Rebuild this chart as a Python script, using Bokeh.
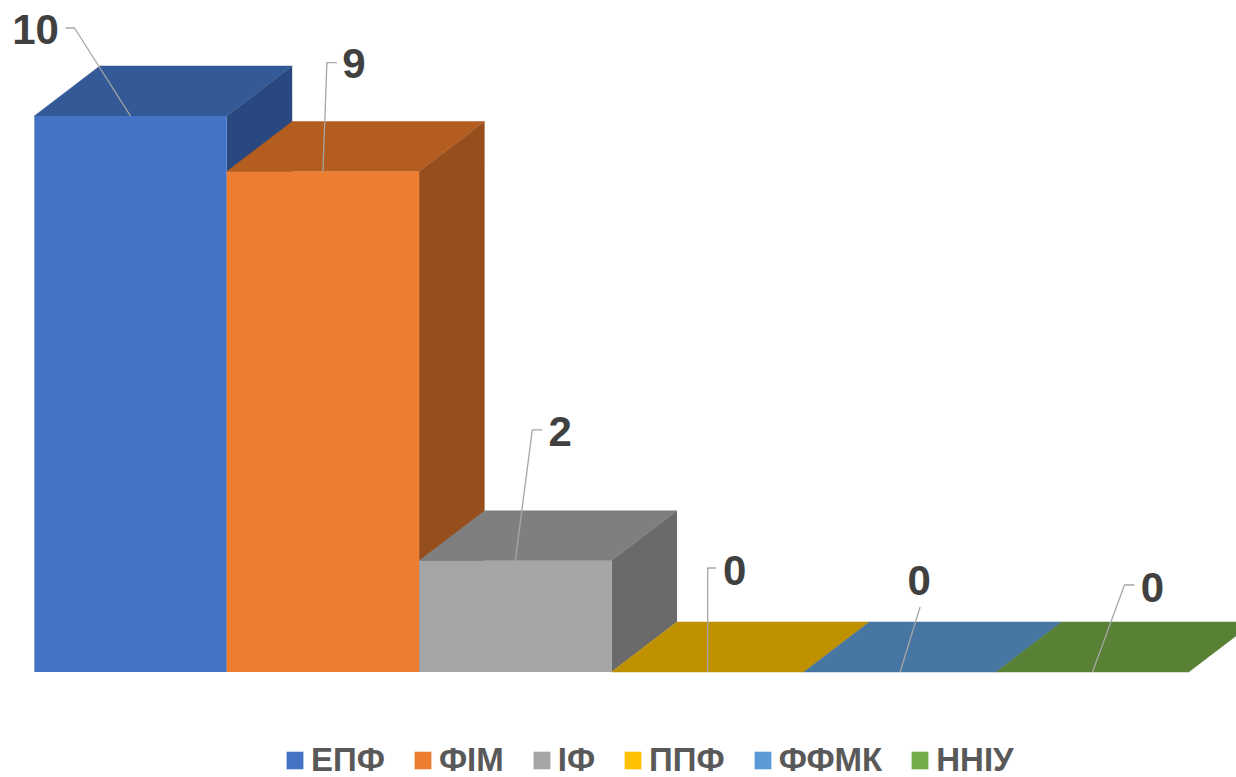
from bokeh.plotting import figure
from bokeh.models import Legend, LegendItem, Range1d
from bokeh.core.properties import value
from bokeh.embed import file_html
from bokeh.resources import INLINE

# Data
categories = ["ЕПФ", "ФІМ", "ІФ", "ППФ", "ФФМК", "ННІУ"]
values = [10, 9, 2, 0, 0, 0]
value_labels = ["10", "9", "2", "0", "0", "0"]

# Colours
front_colors = ["#4472C4", "#ED7D31", "#A5A5A5", "#FFC000", "#5B9BD5", "#70AD47"]
top_colors = ["#335A97", "#B45D21", "#7F7F7F", "#BF9000", "#4676A1", "#588135"]
side_colors = ["#2A4880", "#964F1C", "#6A6A6A", "#8F6C00", "#36648D", "#426429"]

# Layout (pixels in the 1236x777 picture)
W, H = 1236, 777
PX_PER_CAT = 192.4
PX_PER_VAL = 55.6
LEFT, BASE = 33.8, 671.5
DEPTH_X, DEPTH_Y = 65.5 / PX_PER_CAT, 50.0 / PX_PER_VAL

# Leader geometry relative to the bar's front-top centre, in pixels: elbow, end, text centre
leader_elbow = [(-56, -88), (4, -109), (17, -131), (0, -104), (20, -65), (32, -87)]
leader_end = [(-65, -88), (14, -109), (27, -131), (8, -104), (20, -65), (42, -87)]
label_pos = [(-95, -87), (31, -108), (45, -129), (27, -102), (19, -92), (60, -85)]

p = figure(
    width=W, height=H, output_backend="svg", toolbar_location=None,
    x_range=Range1d(-LEFT / PX_PER_CAT, (W - LEFT) / PX_PER_CAT),
    y_range=Range1d(-(H - BASE) / PX_PER_VAL, BASE / PX_PER_VAL),
    min_border=0, outline_line_color=None, background_fill_color="white",
    border_fill_color="white",
)
p.axis.visible = False
p.grid.visible = False

legend_items = []
for i, (cat, v) in enumerate(zip(categories, values)):
    l, r = i, i + 1
    p.patch([l, r, r + DEPTH_X, l + DEPTH_X], [v, v, v + DEPTH_Y, v + DEPTH_Y],
            fill_color=top_colors[i], line_color=top_colors[i], line_width=0.5)
    if v > 0:
        p.patch([r, r + DEPTH_X, r + DEPTH_X, r], [0, DEPTH_Y, v + DEPTH_Y, v],
                fill_color=side_colors[i], line_color=None)
    q = p.quad(left=[l], right=[r], bottom=[0], top=[v],
               fill_color=front_colors[i], line_color=None)
    legend_items.append(LegendItem(label=cat, renderers=[q]))

for i, v in enumerate(values):
    cx = i + 0.5
    xs = [cx, cx + leader_elbow[i][0] / PX_PER_CAT, cx + leader_end[i][0] / PX_PER_CAT]
    ys = [v, v - leader_elbow[i][1] / PX_PER_VAL, v - leader_end[i][1] / PX_PER_VAL]
    p.line(xs, ys, line_color="#A6A6A6", line_width=1.3)
    p.text([cx + label_pos[i][0] / PX_PER_CAT], [v - label_pos[i][1] / PX_PER_VAL],
           text=[value_labels[i]], text_font=value("Liberation Sans"),
           text_font_style="bold", text_font_size="42px", text_color="#404040",
           text_align="center", text_baseline="middle")

legend = Legend(
    items=legend_items, orientation="horizontal", location=(284, -2),
    background_fill_alpha=0, border_line_color=None, padding=0, margin=0,
    spacing=27, label_standoff=6, glyph_width=21, glyph_height=22,
    label_text_font="Liberation Sans", label_text_font_style="bold",
    label_text_font_size="33px", label_text_color="#595959",
    label_height=24,
)
p.add_layout(legend, "center")

open("out.html", "w").write(file_html(p, INLINE))
